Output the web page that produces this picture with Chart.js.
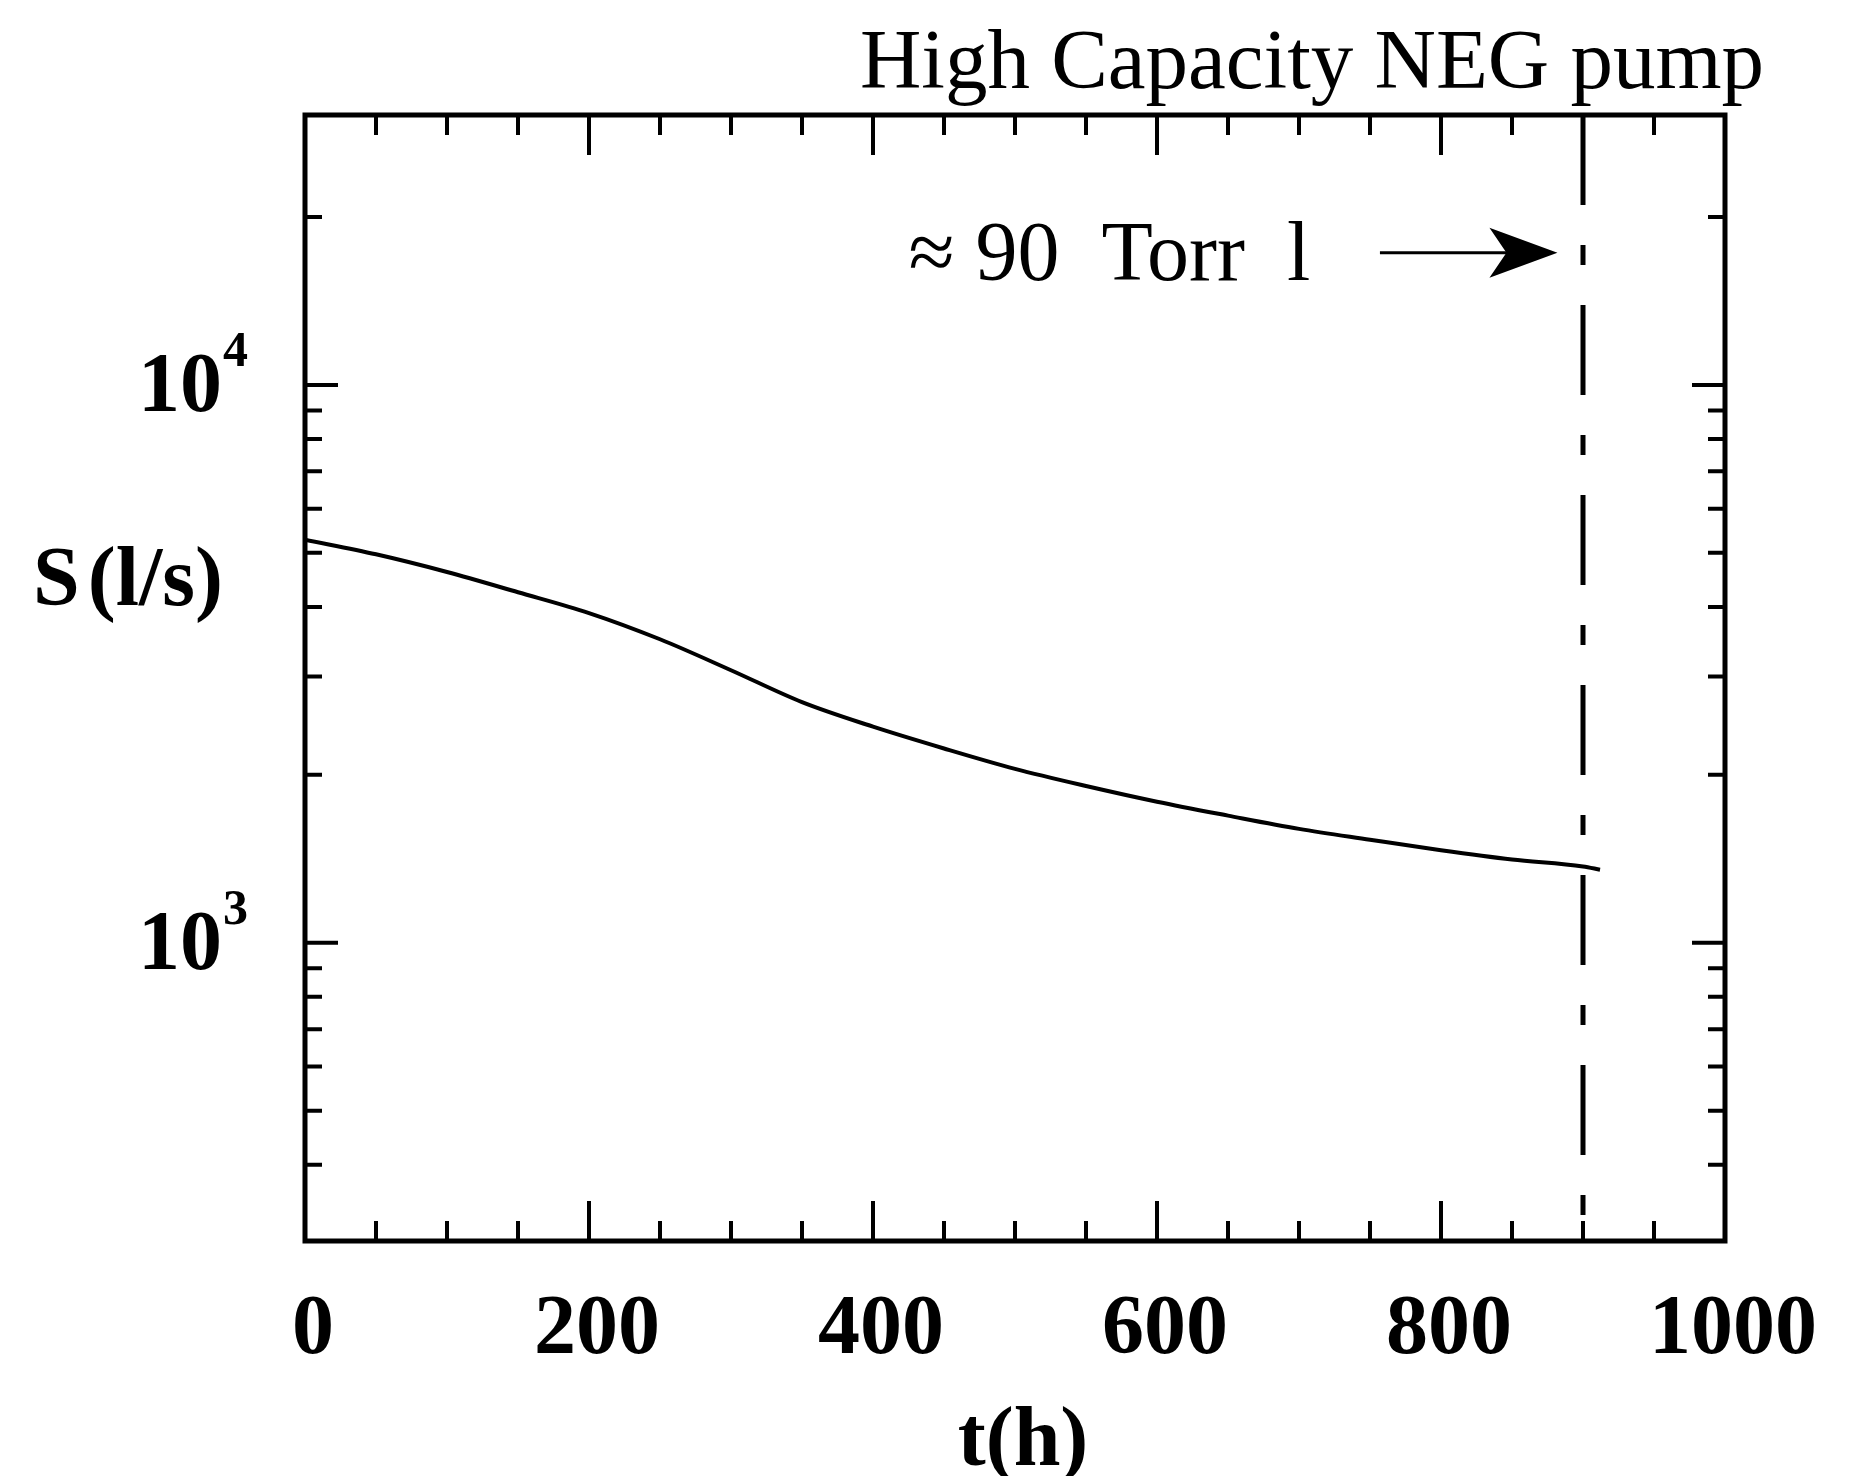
<!DOCTYPE html>
<html>
<head>
<meta charset="utf-8">
<script src="https://cdn.jsdelivr.net/npm/chart.js@4.4.1/dist/chart.umd.min.js"></script>
<style>
  html, body { margin: 0; padding: 0; background: #fff; }
  #wrap { width: 1857px; height: 1476px; }
</style>
</head>
<body>
<div id="wrap"><canvas id="negChart" width="1857" height="1476"></canvas></div>
<script>
// pumping speed of the NEG pump vs time
const hours = [0, 50, 100, 150, 200, 250, 300, 350, 400, 450, 500, 550, 600, 650, 700, 750, 800, 850, 900, 912];
const speed = [5280, 4970, 4620, 4250, 3900, 3500, 3080, 2700, 2440, 2230, 2050, 1910, 1790, 1690, 1600, 1530, 1465, 1410, 1370, 1352];

const xMajorTicks = [0, 200, 400, 600, 800, 1000];
const xMinorTicks = [50, 100, 150, 250, 300, 350, 450, 500, 550, 650, 700, 750, 850, 900, 950];
const yMajorTicks = [1000, 10000];
const yMajorExp = ['3', '4'];
const yMinorTicks = [400, 500, 600, 700, 800, 900, 2000, 3000, 4000, 5000, 6000, 7000, 8000, 9000, 20000];

const markerHour = 900;
const noteText = '\u2248 90  Torr  l';
const noteHour = 425;
const arrowFrom = 757;
const arrowTo = 882;
const arrowLevel = 17250;

const titleText = 'High Capacity NEG pump';
const xTitle = 't(h)';
const yTitle = 'S(l/s)';

const serif = '"Liberation Serif", "Times New Roman", serif';

const framePlugin = {
  id: 'frame',
  afterDraw(chart) {
    const ctx = chart.ctx;
    const { left, right, top, bottom } = chart.chartArea;
    const xs = chart.scales.x;
    const ys = chart.scales.y;
    ctx.save();
    ctx.strokeStyle = '#000';
    ctx.fillStyle = '#000';
    ctx.lineCap = 'butt';

    // frame
    ctx.lineWidth = 5;
    ctx.strokeRect(left, top, right - left, bottom - top);

    // inward ticks on all four sides
    ctx.lineWidth = 4;
    const tickX = (v, len) => {
      const px = xs.getPixelForValue(v);
      ctx.beginPath();
      ctx.moveTo(px, bottom); ctx.lineTo(px, bottom - len);
      ctx.moveTo(px, top); ctx.lineTo(px, top + len);
      ctx.stroke();
    };
    const tickY = (v, len) => {
      const py = ys.getPixelForValue(v);
      ctx.beginPath();
      ctx.moveTo(left, py); ctx.lineTo(left + len, py);
      ctx.moveTo(right, py); ctx.lineTo(right - len, py);
      ctx.stroke();
    };
    xMajorTicks.forEach(v => tickX(v, 40));
    xMinorTicks.forEach(v => tickX(v, 20));
    yMajorTicks.forEach(v => tickY(v, 33));
    yMinorTicks.forEach(v => tickY(v, 17));

    // dash-dot marker
    ctx.lineWidth = 5;
    ctx.setLineDash([90, 40, 20, 40]);
    const mx = xs.getPixelForValue(markerHour);
    ctx.beginPath();
    ctx.moveTo(mx, top); ctx.lineTo(mx, bottom);
    ctx.stroke();
    ctx.setLineDash([]);

    // x tick labels
    ctx.font = 'bold 84px ' + serif;
    ctx.textAlign = 'center';
    ctx.textBaseline = 'alphabetic';
    xMajorTicks.forEach(v => {
      ctx.fillText(String(v), xs.getPixelForValue(v) + 8, bottom + 112);
    });

    // y tick labels 10^n
    yMajorTicks.forEach((v, i) => {
      const py = ys.getPixelForValue(v);
      ctx.font = 'bold 84px ' + serif;
      ctx.textAlign = 'right';
      ctx.fillText('10', left - 83, py + 26);
      ctx.font = 'bold 50px ' + serif;
      ctx.textAlign = 'left';
      ctx.fillText(yMajorExp[i], left - 82, py - 19);
    });

    // axis titles
    ctx.font = 'bold 84px ' + serif;
    ctx.textAlign = 'center';
    ctx.fillText(xTitle, (left + right) / 2 + 8, bottom + 224);
    ctx.textAlign = 'left';
    ctx.fillText(yTitle.slice(0, 1), 33, 605);
    ctx.fillText(yTitle.slice(1), 33 + ctx.measureText('S').width + 8, 605);

    // title
    ctx.font = '85px ' + serif;
    ctx.textAlign = 'center';
    ctx.fillText(titleText, 1312, 88);

    // annotation with arrow
    const ay = ys.getPixelForValue(arrowLevel);
    ctx.font = '84px ' + serif;
    ctx.textAlign = 'left';
    ctx.fillText(noteText, xs.getPixelForValue(noteHour), ay + 27);
    const ax0 = xs.getPixelForValue(arrowFrom);
    const ax1 = xs.getPixelForValue(arrowTo);
    ctx.lineWidth = 3;
    ctx.beginPath();
    ctx.moveTo(ax0, ay); ctx.lineTo(ax1 - 40, ay);
    ctx.stroke();
    ctx.beginPath();
    ctx.moveTo(ax1, ay);
    ctx.lineTo(ax1 - 68, ay - 25);
    ctx.lineTo(ax1 - 51, ay);
    ctx.lineTo(ax1 - 68, ay + 25);
    ctx.closePath();
    ctx.fill();

    ctx.restore();
  }
};

const chart = new Chart(document.getElementById('negChart').getContext('2d'), {
  type: 'line',
  data: {
    datasets: [{
      label: 'S',
      data: hours.map((h, i) => ({ x: h, y: speed[i] })),
      borderColor: '#000',
      borderWidth: 4,
      pointRadius: 0,
      cubicInterpolationMode: 'monotone',
      fill: false,
    }],
  },
  options: {
    responsive: false,
    animation: false,
    devicePixelRatio: 1,
    layout: { padding: { left: 305, right: 132, top: 115, bottom: 235 } },
    plugins: {
      legend: { display: false },
      tooltip: { enabled: false },
    },
    scales: {
      x: { type: 'linear', min: 0, max: 1000, display: false },
      y: { type: 'logarithmic', min: 292, max: 30470, display: false },
    },
  },
  plugins: [framePlugin],
});
</script>
</body>
</html>
